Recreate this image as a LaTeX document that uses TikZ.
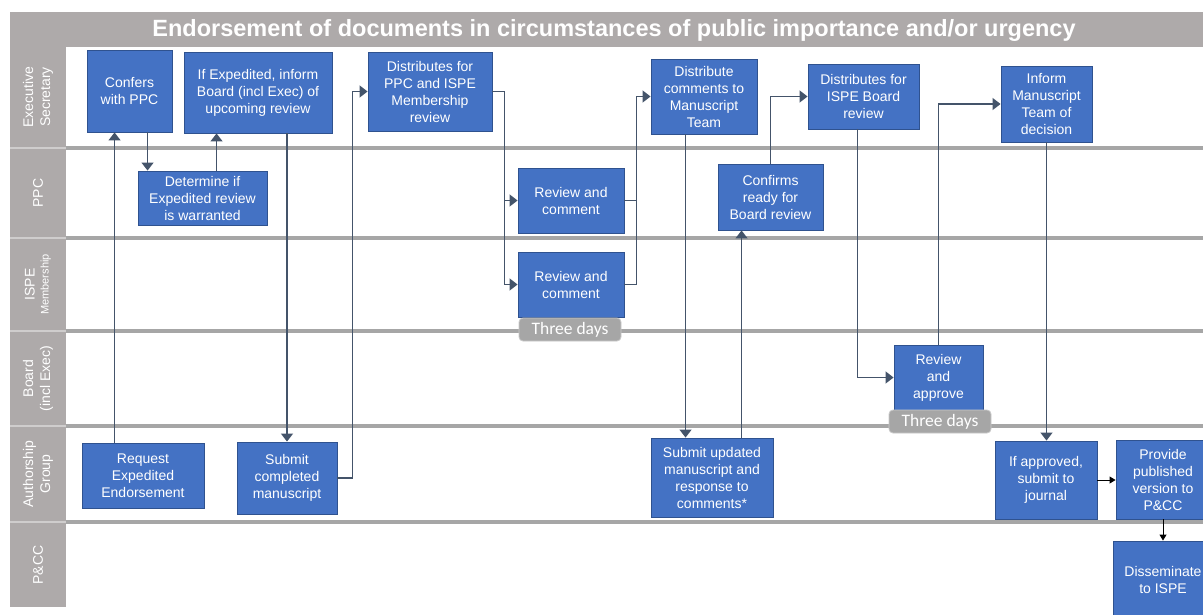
\documentclass[tikz,border=0pt]{standalone}
\usepackage{fontspec}
\setmainfont{Liberation Sans}
\newfontfamily\tagfont{Carlito}
\usetikzlibrary{arrows.meta}
\usetikzlibrary{calc}
\definecolor{laneGray}{HTML}{AEAAAA}
\definecolor{laneGap}{HTML}{CFCDCD}
\definecolor{lineGray}{HTML}{A6A6A6}
\definecolor{stepBlue}{HTML}{4472C4}
\definecolor{stepEdge}{HTML}{2F528F}
\definecolor{flowSlate}{HTML}{44546A}
\definecolor{tagGray}{HTML}{A6A6A6}
\definecolor{tagEdge}{HTML}{C9C9C9}
\newcommand{\SLLabelLeft}{10}
\newcommand{\SLLabelRight}{66}
\newcommand{\SLRight}{1203}
\tikzset{
  stepbox/.style={draw=stepEdge, line width=0.9pt, fill=stepBlue, text=white,
    align=center, inner sep=0pt, font=\fontsize{14}{17}\selectfont},
  lanelabel/.style={rotate=90, text=white, align=center,
    font=\fontsize{14}{17}\selectfont},
  daytag/.style={draw=tagEdge, line width=0.8pt, fill=tagGray, rounded corners=4pt,
    text=white, minimum width=102pt, minimum height=23pt, inner sep=0pt,
    font=\tagfont\fontsize{17.5}{18}\selectfont},
  flow/.style={draw=flowSlate, line width=1.3pt, -{Triangle[length=8pt,width=12pt]}},
  link/.style={draw=flowSlate, line width=1.3pt},
  blackflow/.style={draw=black, line width=0.9pt, -{Triangle[length=6pt,width=7pt]}},
}
\newcommand{\SLLane}[4]{
  \fill[laneGray] (\SLLabelLeft,#2) rectangle (\SLLabelRight,#3);
  \node[lanelabel] (#1) at ($(\SLLabelLeft,#2)!.5!(\SLLabelRight,#3)$) {#4};
}
\newcommand{\SLDivider}[1]{
  \draw[lineGray, line width=3.5pt] (\SLLabelRight,#1) -- (\SLRight,#1);
}
\newcommand{\SLStep}[5]{
  \node[stepbox, minimum width=#3pt, minimum height=#4pt] (#1) at #2 {#5};
}
\newcommand{\SLTag}[3]{
  \node[daytag] (#1) at #2 {#3};
}

\begin{document}
\begin{tikzpicture}[x=1pt,y=-1pt]
\useasboundingbox (0,0) rectangle (1203,614);
\fill[white] (0,0) rectangle (1203,614);

\fill[laneGray] (10,12) rectangle (\SLRight,47);
\node[text=white, font=\fontsize{23.5}{28}\selectfont\bfseries] (title) at (614,30)
  {Endorsement of documents in circumstances of public importance and/or urgency};
\fill[laneGap] (\SLLabelLeft,47) rectangle (\SLLabelRight,607);

\SLLane{execlane}{47}{147}{Executive\\Secretary}
\SLLane{ppclane}{149}{237}{PPC}
\SLLane{ispelane}{239}{330}{ISPE\\[-3pt]\fontsize{11}{12}\selectfont Membership}
\SLLane{boardlane}{332}{425}{Board\\(incl Exec)}
\SLLane{authlane}{427}{521}{Authorship\\Group}
\SLLane{pcclane}{523}{607}{P\&CC}

\SLDivider{148}
\SLDivider{238}
\SLDivider{331}
\SLDivider{426}
\SLDivider{522}

\SLStep{confers}{(129.5,91)}{85}{82}{Confers\\with PPC}
\SLStep{inform}{(258,92.5)}{148}{81}{If Expedited, inform\\Board (incl Exec) of\\upcoming review}
\SLStep{determine}{(202.5,198)}{129}{54}{Determine if\\Expedited review\\is warranted}
\SLStep{distppc}{(430,91.5)}{124}{79}{Distributes for\\PPC and ISPE\\Membership\\review}
\SLStep{reviewppc}{(571,200.5)}{106}{65}{Review and\\comment}
\SLStep{reviewispe}{(571,284.5)}{106}{65}{Review and\\comment}
\SLTag{tagispe}{(570,329.5)}{Three days}
\SLStep{distcom}{(704,96.5)}{106}{75}{Distribute\\comments to\\Manuscript\\Team}
\SLStep{confirms}{(770.5,197)}{105}{66}{Confirms\\ready for\\Board review}
\SLStep{distboard}{(863.5,96.5)}{111}{65}{Distributes for\\ISPE Board\\review}
\SLStep{informteam}{(1046.5,104)}{91}{76}{Inform\\Manuscript\\Team of\\decision}
\SLStep{request}{(143,475.5)}{122}{65}{Request\\Expedited\\Endorsement}
\SLStep{submit}{(287,478)}{100}{72}{Submit\\completed\\manuscript}
\SLStep{submitupd}{(712,477.5)}{122}{79}{Submit updated\\manuscript and\\response to\\comments*}
\SLStep{approve}{(938.5,377.5)}{89}{65}{Review\\and\\approve}
\SLTag{tagboard}{(940,421.5)}{Three days}
\SLStep{ifapproved}{(1046,480)}{102}{78}{If approved,\\submit to\\journal}
\SLStep{provide}{(1163,479.5)}{94}{79}{Provide\\published\\version to\\P\&CC}
\SLStep{disseminate}{(1163,580)}{100}{78}{Disseminate\\to ISPE}

\coordinate (reqUp) at ([xshift=33pt]request.north west);
\draw[flow] (reqUp) -- (reqUp |- confers.south);
\coordinate (confDown) at ([xshift=61pt]confers.south west);
\draw[flow] (confDown) -- (confDown |- determine.north);
\coordinate (detUp) at ([xshift=79pt]determine.north west);
\draw[flow] (detUp) -- (detUp |- inform.south);
\draw[flow] (submit.north |- inform.south) -- (submit.north);

\coordinate (distIn) at ([xshift=-15pt]distppc.west);
\draw[flow] (submit.east) -| (distIn) -- (distppc.west);
\coordinate (splitRev) at ([xshift=-13pt]reviewppc.west);
\draw[link] (distppc.east) -| (splitRev);
\draw[flow] (splitRev) -- (reviewppc.west);
\draw[flow] (splitRev) |- (reviewispe.west);
\coordinate (joinRev) at ([xshift=-14pt]distcom.west);
\draw[link] (reviewppc.east) -- (reviewppc.east -| joinRev);
\draw[flow] (reviewispe.east) -| (joinRev) -- (distcom.west);

\coordinate (comDown) at ([xshift=35pt]distcom.south west);
\draw[flow] (comDown) -- (comDown |- submitupd.north);
\coordinate (updUp) at ([xshift=91pt]submitupd.north west);
\draw[flow] (updUp) -- (updUp |- confirms.south);
\draw[flow] (confirms.north) |- (distboard.west);
\coordinate (boardDown) at ([xshift=50pt]distboard.south west);
\draw[flow] (boardDown) |- (approve.west);
\draw[flow] (approve.north) |- (informteam.west);
\draw[flow] (informteam.south) -- (informteam.south |- ifapproved.north);

\draw[blackflow] (ifapproved.east) -- (ifapproved.east -| provide.west);
\draw[blackflow] (provide.south) -- (provide.south |- disseminate.north);
\end{tikzpicture}
\end{document}
